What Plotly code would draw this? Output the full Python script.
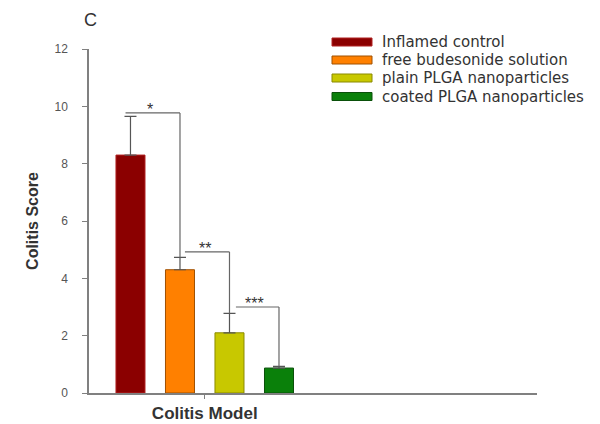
import plotly.graph_objects as go

# Colitis score per treatment group (mean and upper SEM)
groups = ["Inflamed control", "free budesonide solution",
          "plain PLGA nanoparticles", "coated PLGA nanoparticles"]
scores = [8.3, 4.3, 2.1, 0.87]
errors = [1.35, 0.43, 0.68, 0.06]
colors = ["#8B0000", "#FF8000", "#C8C800", "#0A800A"]
edges = ["#B02020", "#A05000", "#8A8A00", "#0A500A"]

# significance brackets: (x start, x end, bracket level, stars)
brackets = [(-0.1, 1.0, 9.77, "*"),
            (1.1, 2.0, 4.92, "**"),
            (2.13, 3.0, 3.0, "***")]

y_ticks = [0, 2, 4, 6, 8, 10, 12]
x_tick_label = "Colitis Model"

W, H = 600, 424
L, R, T, B = 89, 63, 49, 31
FONT = "Liberation Sans, Arial, sans-serif"
x_pos = list(range(len(groups)))


def px_x(px):
    return (px - L) / (W - L - R)


def px_y(py):
    return (H - B - py) / (H - T - B)


fig = go.Figure()
fig.add_trace(go.Bar(
    x=x_pos, y=scores, width=0.586,
    marker=dict(color=colors, line=dict(color=edges, width=1)),
    error_y=dict(type="data", symmetric=False, array=errors,
                 arrayminus=[0] * len(errors),
                 color="#555555", thickness=1.2, width=6),
    showlegend=False,
))

tops = [s + e for s, e in zip(scores, errors)]
for i, (x0, x1, lvl, stars) in enumerate(brackets):
    line = dict(color="#666666", width=1.2)
    fig.add_shape(type="line", x0=x0, x1=x1, y0=lvl, y1=lvl, line=line)
    fig.add_shape(type="line", x0=x1, x1=x1, y0=lvl, y1=tops[i + 1], line=line)
    fig.add_annotation(x=(x0 + x1) / 2 - 0.05, y=lvl, text=stars,
                       showarrow=False, yanchor="bottom", yshift=-7,
                       font=dict(family=FONT, size=16, color="#333333"))

# legend with wide colour swatches
leg_rows = [42, 60, 78, 96.5]
for name, col, edge, ry in zip(groups, colors, edges, leg_rows):
    fig.add_shape(type="rect", xref="paper", yref="paper",
                  x0=px_x(332), x1=px_x(372), y0=px_y(ry + 4), y1=px_y(ry - 4),
                  fillcolor=col, line=dict(color=edge, width=1))
    fig.add_annotation(xref="paper", yref="paper", x=px_x(380), y=px_y(ry),
                       text=name, showarrow=False, xanchor="left",
                       yanchor="middle",
                       font=dict(family="DejaVu Sans, sans-serif", size=15,
                                 color="#333333"))

# panel letter
fig.add_annotation(xref="paper", yref="paper", x=px_x(90), y=px_y(20),
                   text="C", showarrow=False, xanchor="center",
                   yanchor="middle",
                   font=dict(family=FONT, size=18, color="#333333"))

fig.update_layout(
    width=W, height=H,
    margin=dict(l=L, r=R, t=T, b=B, pad=0, autoexpand=False),
    paper_bgcolor="white", plot_bgcolor="white",
    font=dict(family=FONT, color="#444444"),
    xaxis=dict(range=[-0.838, 8.212], showgrid=False, zeroline=False,
               automargin=False,
               showline=True, linecolor="#808080", linewidth=1.5,
               tickmode="array", tickvals=[1.5],
               ticktext=["<b>" + x_tick_label + "</b>"],
               ticks="outside", ticklen=4, tickcolor="#808080",
               tickfont=dict(family=FONT, size=17, color="#333333"),
               ticklabelstandoff=0),
    yaxis=dict(range=[0, 12], showgrid=False, zeroline=False,
               automargin=False,
               showline=True, linecolor="#808080", linewidth=1.5,
               tickmode="array", tickvals=y_ticks,
               ticks="outside", ticklen=5, tickcolor="#808080",
               tickfont=dict(family=FONT, size=12, color="#555555"),
               ticklabelstandoff=12,
               title=dict(text="<b>Colitis Score</b>", standoff=12,
                          font=dict(family=FONT, size=16, color="#333333"))),
)

fig.write_html("out.html")
